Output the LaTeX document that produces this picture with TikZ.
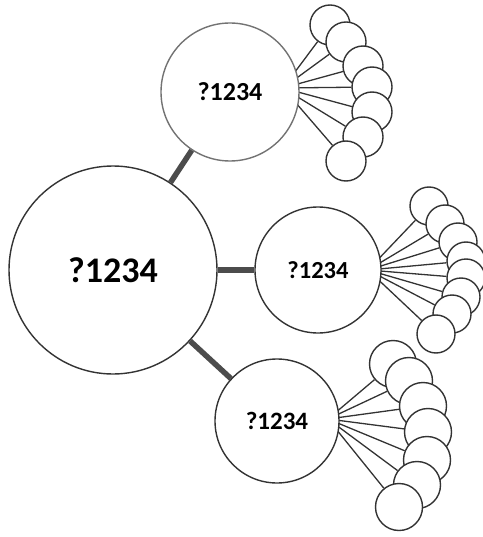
\documentclass[tikz,border=0pt]{standalone}
\usepackage{fontspec}
\setmainfont{Carlito}
\usetikzlibrary{backgrounds}
\begin{document}
\begin{tikzpicture}[x=1pt,y=-1pt,
  hub/.style={circle,draw=black!80,line width=1.4pt,fill=white,inner sep=0pt,minimum size=#1},
  leaf/.style={circle,draw=black!80,line width=1.4pt,fill=white,inner sep=0pt,minimum size=#1},
  spoke/.style={draw=black!80,line width=1.3pt},
  link/.style={draw=black!70,line width=5.5pt}]
\useasboundingbox (0,0) rectangle (482,537);
% hubs
\node[hub=208pt,font=\fontsize{36}{40}\selectfont\bfseries] (big) at (113,270) {?1234};
\node[hub=138pt,draw=black!55,font=\fontsize{26}{30}\selectfont\bfseries] (top) at (230,92) {?1234};
\node[hub=126pt,font=\fontsize{24.5}{28}\selectfont\bfseries] (mid) at (318,270) {?1234};
\node[hub=124pt,font=\fontsize{25}{29}\selectfont\bfseries] (bot) at (277,421) {?1234};
% fan origins
\coordinate (ft) at (283,88);
\coordinate (fm) at (368,270);
\coordinate (fb) at (328,419);
% leaves
\foreach \p [count=\i] in {{330,25},{346,42},{363,66},{372,87},{372,112},{363,137},{346,161}}
  \node[leaf=40pt] (t\i) at (\p) {};
\foreach \p [count=\i] in {{429,206},{445,224},{458,242},{466,261},{466,278},{461,297},{452,314},{436,334}}
  \node[leaf=38pt] (m\i) at (\p) {};
\foreach \p [count=\i] in {{393,364},{409,381},{423,406},{428,432},{427,460},{417,485},{399,507}}
  \node[leaf=47pt] (b\i) at (\p) {};
% links
\draw[link] (big) -- (top);
\draw[link] (big) -- (mid);
\draw[link] (big) -- (bot);
% spokes
\begin{scope}[on background layer]
  \foreach \i in {1,...,7} \draw[spoke] (ft) -- (t\i);
  \foreach \i in {1,...,8} \draw[spoke] (fm) -- (m\i);
  \foreach \i in {1,...,7} \draw[spoke] (fb) -- (b\i);
\end{scope}
\end{tikzpicture}
\end{document}
